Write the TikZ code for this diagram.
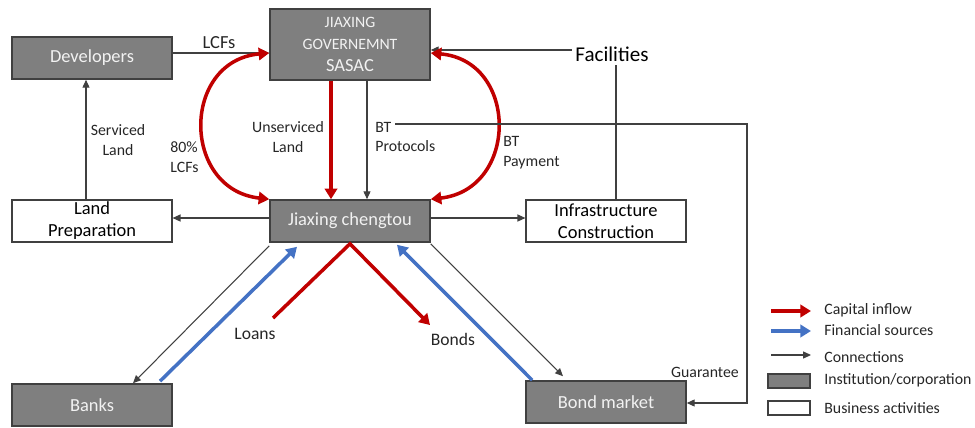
\documentclass[tikz,border=0pt]{standalone}
\usepackage{fontspec}
\setmainfont{Carlito}
\usetikzlibrary{arrows.meta}
\definecolor{boxgray}{HTML}{7F7F7F}
\definecolor{edgegray}{HTML}{404040}
\definecolor{capred}{HTML}{C00000}
\definecolor{finblue}{HTML}{4472C4}
\begin{document}
\begin{tikzpicture}[x=0.02cm,y=-0.02cm,
  inst/.style={draw=edgegray,line width=0.9pt,fill=boxgray,text=white!95!black,minimum width=3.2cm,minimum height=0.84cm,inner sep=0pt,align=center,font={\fontsize{10.5}{12.5}\selectfont}},
  activ/.style={draw=edgegray,line width=0.7pt,fill=white,minimum width=3.2cm,minimum height=0.84cm,inner sep=0pt,align=center,font={\fontsize{10.5}{12.5}\selectfont}},
  lbl/.style={inner sep=0pt,font={\fontsize{9}{11.3}\selectfont},text=black!85},
  conn/.style={draw=edgegray,line width=0.6pt,-{Triangle[length=4.5pt,width=4pt]}},
  plainln/.style={draw=edgegray,line width=0.6pt},
  capin/.style={draw=capred,line width=2pt,-{Triangle[length=6pt,width=7pt]}},
  capboth/.style={draw=capred,line width=2pt,{Triangle[length=6pt,width=7pt]}-{Triangle[length=6pt,width=7pt]}},
  finsrc/.style={draw=finblue,line width=2pt,-{Triangle[length=6pt,width=7pt]}}]
\useasboundingbox (0,0) rectangle (975,427);

% nodes
\node[inst] (dev) at (92,58) {Developers};
\node[inst,minimum height=1.42cm] (gov) at (350,44.5) {{\fontsize{9}{11.6}\selectfont JIAXING}\\{\fontsize{9}{11.6}\selectfont GOVERNEMNT}\\SASAC};
\node[inst] (cheng) at (350,221) {Jiaxing chengtou};
\node[activ] (land) at (92,221) {Land\\Preparation};
\node[activ] (infra) at (606,221) {Infrastructure\\Construction};
\node[inst] (banks) at (92,405) {Banks};
\node[inst] (bond) at (606,402) {Bond market};
\node[inner sep=2pt,font={\fontsize{12}{14}\selectfont}] (fac) at (612,54) {Facilities};

% labels
\node[lbl,font={\fontsize{10.5}{12}\selectfont}] (llcf) at (219,43) {LCFs};
\node[lbl,align=center] (lserv) at (118,140) {Serviced\\Land};
\node[lbl,align=left,anchor=west] (l80) at (170,157) {80\%\\LCFs};
\node[lbl,align=center] (lunserv) at (288,137) {Unserviced\\Land};
\node[lbl,align=left,anchor=west] (lbtp) at (375,137) {BT\\Protocols};
\node[lbl,align=left,anchor=west] (lbtpay) at (503,153) {BT\\Payment};
\node[lbl] (lguar) at (705,372) {Guarantee};
\node[lbl,font={\fontsize{10}{12}\selectfont}] (lloans) at (255,334) {Loans};
\node[lbl,font={\fontsize{10}{12}\selectfont}] (lbonds) at (453,339) {Bonds};

% upper connectors
\draw[conn] ([yshift=0.1cm]dev.east) coordinate (d1) -- (d1 -| gov.west);
\draw[conn] (fac.west |- 0,50) coordinate (f1) -- (f1 -| gov.east);
\draw[plainln] ([xshift=0.2cm]infra.north) coordinate (i1) -- (i1 |- fac.south);
\draw[capboth] ([yshift=-0.17cm]gov.west) .. controls +(-88,8) and +(-88,-10) .. (cheng.north west);
\draw[capboth] ([yshift=-0.17cm]gov.east) .. controls +(88,8) and +(88,-10) .. (cheng.north east);
\draw[capin] ([xshift=-0.38cm]gov.south) -- ([xshift=-0.38cm]cheng.north);
\draw[conn] ([xshift=0.34cm]gov.south) -- ([xshift=0.34cm]cheng.north);
\coordinate (bt1) at (395,124);
\coordinate (bt2) at (747,124);
\draw[conn] (bt1) -- (bt2) |- ([yshift=-0.02cm]bond.east);
\draw[conn] ([xshift=-0.12cm]land.north) -- ([xshift=-0.12cm]dev.south);
\draw[conn] ([yshift=0.06cm]cheng.west) -- ([yshift=0.06cm]land.east);
\draw[conn] ([yshift=0.06cm]cheng.east) -- ([yshift=0.06cm]infra.west);

% lower connectors
\draw[conn] ([yshift=-0.06cm]cheng.south west) -- ([xshift=0.82cm]banks.north);
\draw[finsrc] ([xshift=1.36cm,yshift=0.04cm]banks.north) -- ([xshift=-1.06cm,yshift=-0.08cm]cheng.south);
\coordinate (lo1) at (273,318);
\coordinate (bo1) at (430,325);
\draw[capin,line join=miter] (lo1) -- ([yshift=-0.02cm]cheng.south) -- (bo1);
\draw[finsrc] ([xshift=0.14cm]bond.north west) -- ([xshift=0.94cm,yshift=-0.04cm]cheng.south);
\draw[conn] ([yshift=-0.02cm]cheng.south east) -- ([xshift=-0.86cm,yshift=0.08cm]bond.north);

% legend
\coordinate (k1a) at (771,311); \coordinate (k1b) at (811,311);
\coordinate (k2a) at (771,331); \coordinate (k2b) at (811,331);
\coordinate (k3a) at (771,355); \coordinate (k3b) at (811,355);
\draw[capin] (k1a) -- (k1b);
\draw[finsrc] (k2a) -- (k2b);
\draw[conn] (k3a) -- (k3b);
\node[draw=edgegray,line width=0.9pt,fill=boxgray,minimum width=0.84cm,minimum height=0.28cm,inner sep=0pt] (k4) at (789,381) {};
\node[draw=edgegray,line width=0.7pt,fill=white,minimum width=0.84cm,minimum height=0.28cm,inner sep=0pt] (k5) at (789,408) {};
\node[lbl,anchor=west] (t1) at (824,310) {Capital inflow};
\node[lbl,anchor=west] (t2) at (824,330) {Financial sources};
\node[lbl,anchor=west] (t3) at (824,357) {Connections};
\node[lbl,anchor=west] (t4) at (824,380) {Institution/corporation};
\node[lbl,anchor=west] (t5) at (824,408) {Business activities};
\end{tikzpicture}
\end{document}
